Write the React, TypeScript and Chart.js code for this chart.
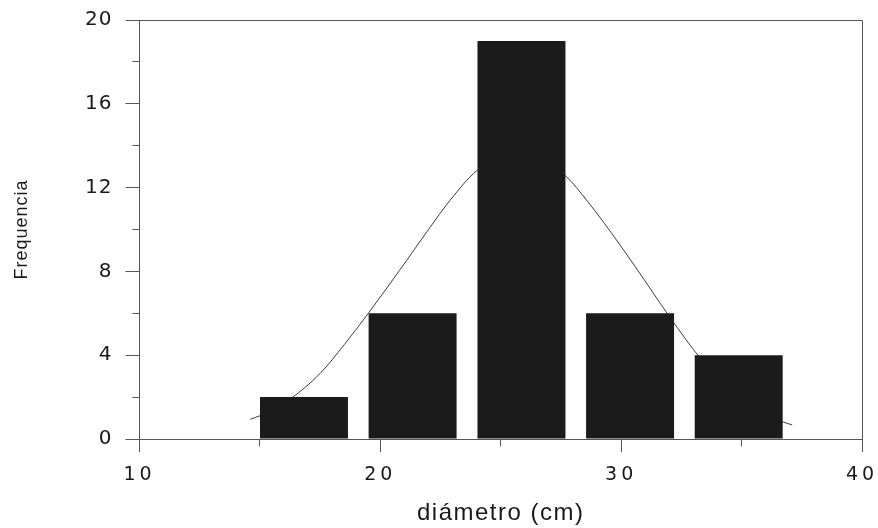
import React, { useEffect, useRef } from "react";
import { Chart, registerables } from "chart.js";

Chart.register(...registerables);

// ---- data ----
const binCenters = [16.83, 21.34, 25.86, 30.37, 34.88];
const frequencies = [2, 6, 19, 6, 4];

const curveX = [14.6, 15.5, 16.3, 17.5, 18.5, 19.5, 20.8, 22.0, 22.9, 24.0, 25.0, 25.7, 26.5, 27.7, 28.6, 29.3, 30.6, 32.0, 33.3, 34.5, 35.5, 36.4, 37.1];
const curveY = [0.94, 1.35, 1.94, 3.13, 4.5, 6.0, 8.05, 10.0, 11.4, 12.8, 13.4, 13.5, 13.4, 12.55, 11.35, 10.3, 8.2, 5.85, 3.84, 2.4, 1.5, 0.95, 0.67];

const xTicks = [10, 20, 30, 40];
const yTicks = [0, 4, 8, 12, 16, 20];
const xMinorTicks = [15, 25, 35];
const yMinorTicks = [2, 6, 10, 14, 18];

const xTitle = "diámetro (cm)";
const yTitle = "Frequencia";

// ---- styles ----
const AXIS = "#555555";
const TEXT = "#1a1a1a";
const BAR = "#1b1b1b";
const CURVE = "#3c3c3c";

function withSpacing(scale: any, fnName: string, spacing: string) {
  const orig = scale[fnName];
  scale[fnName] = function (...args: any[]) {
    const ctx = this.ctx;
    const prev = ctx.letterSpacing;
    ctx.letterSpacing = spacing;
    try {
      return orig.apply(this, args);
    } finally {
      ctx.letterSpacing = prev;
    }
  };
}

const align = (p: number) => Math.round(p - 0.5) + 0.5;

const framePlugin = {
  id: "frameAndMinor",
  beforeDraw(chart: any) {
    const { x, y } = chart.scales;
    if (!x.__spaced) {
      withSpacing(x, "drawLabels", "4px");
      withSpacing(x, "drawTitle", "1.5px");
      x.__spaced = true;
    }
    if (!y.__spaced) {
      withSpacing(y, "drawLabels", "1px");
      withSpacing(y, "drawTitle", "1px");
      y.__spaced = true;
    }
  },
  afterDraw(chart: any) {
    const { ctx, chartArea } = chart;
    const { left, right, top, bottom } = chartArea;
    const { x, y } = chart.scales;
    ctx.save();
    ctx.strokeStyle = AXIS;
    ctx.lineWidth = 1;
    ctx.beginPath();
    ctx.moveTo(align(left), align(top));
    ctx.lineTo(align(right), align(top));
    ctx.moveTo(align(right), align(top));
    ctx.lineTo(align(right), align(bottom));
    for (const v of xMinorTicks) {
      const px = align(x.getPixelForValue(v));
      ctx.moveTo(px, align(bottom));
      ctx.lineTo(px, align(bottom) + 7);
    }
    for (const v of yMinorTicks) {
      const py = align(y.getPixelForValue(v));
      ctx.moveTo(align(left) - 7, py);
      ctx.lineTo(align(left), py);
    }
    ctx.stroke();
    ctx.restore();
  },
};

export default function App() {
  const ref = useRef<HTMLCanvasElement | null>(null);

  useEffect(() => {
    if (!ref.current) return;
    const chart = new Chart(ref.current, {
      type: "bar",
      data: {
        datasets: [
          {
            type: "bar",
            data: binCenters.map((c, i) => ({ x: c, y: frequencies[i] })),
            backgroundColor: BAR,
            borderWidth: 0,
            categoryPercentage: 1,
            barPercentage: 0.81,
            order: 0,
          } as any,
          {
            type: "line",
            data: curveX.map((c, i) => ({ x: c, y: curveY[i] })),
            borderColor: CURVE,
            borderWidth: 1,
            pointRadius: 0,
            fill: false,
            cubicInterpolationMode: "monotone",
            order: 1,
          } as any,
        ],
      },
      options: {
        responsive: false,
        maintainAspectRatio: false,
        animation: false,
        devicePixelRatio: 1,
        layout: { padding: { left: 0, top: 20, right: 16, bottom: 0 } },
        plugins: {
          legend: { display: false },
          tooltip: { enabled: false },
        },
        scales: {
          x: {
            type: "linear",
            min: 10,
            max: 40,
            offset: false,
            afterBuildTicks: (s: any) => {
              s.ticks = xTicks.map((v) => ({ value: v }));
            },
            afterFit: (s: any) => {
              s.height = 89;
              s.paddingLeft = 0;
              s.paddingRight = 0;
            },
            grid: {
              display: true,
              offset: false,
              drawOnChartArea: false,
              drawTicks: true,
              tickLength: 13,
              tickColor: AXIS,
              tickWidth: 1,
            },
            border: { display: true, color: AXIS, width: 1 },
            ticks: {
              color: TEXT,
              padding: 12,
              maxRotation: 0,
              autoSkip: false,
              font: { family: "'DejaVu Sans', sans-serif", size: 19 },
            },
            title: {
              display: true,
              text: xTitle,
              color: TEXT,
              padding: { top: 0, bottom: 0 },
              font: { family: "'Liberation Sans', Arial, sans-serif", size: 24 },
            },
          },
          y: {
            type: "linear",
            min: 0,
            max: 20,
            afterBuildTicks: (s: any) => {
              s.ticks = yTicks.map((v) => ({ value: v }));
            },
            afterFit: (s: any) => {
              s.width = 139.5;
              s.paddingTop = 0;
              s.paddingBottom = 0;
            },
            grid: {
              display: true,
              drawOnChartArea: false,
              drawTicks: true,
              tickLength: 14,
              tickColor: AXIS,
              tickWidth: 1,
            },
            border: { display: true, color: AXIS, width: 1 },
            ticks: {
              color: TEXT,
              padding: 13,
              autoSkip: false,
              font: { family: "'DejaVu Sans', sans-serif", size: 20 },
            },
            title: {
              display: true,
              text: yTitle,
              color: TEXT,
              padding: { top: 11, bottom: 0 },
              font: { family: "'Liberation Sans', Arial, sans-serif", size: 18 },
            },
          },
        },
      } as any,
      plugins: [framePlugin],
    });
    return () => chart.destroy();
  }, []);

  return (
    <div style={{ position: "fixed", left: 0, top: 0, width: 878, height: 528, background: "#fff" }}>
      <canvas ref={ref} width={878} height={528} style={{ display: "block", width: 878, height: 528 }} />
    </div>
  );
}
